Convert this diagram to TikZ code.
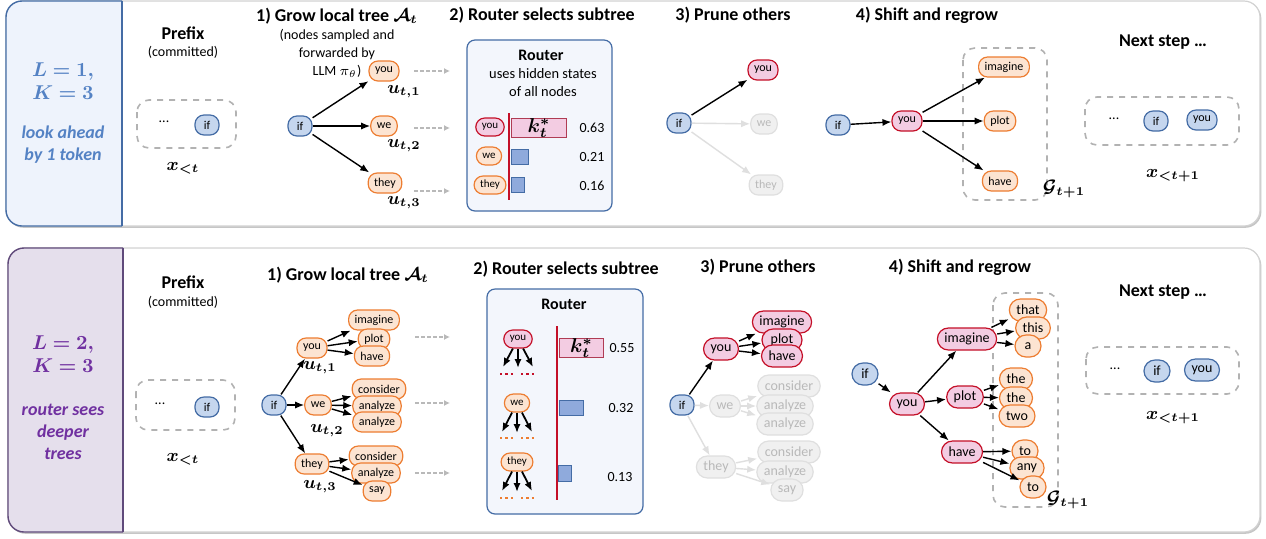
\documentclass[tikz,border=0pt]{standalone}
\usepackage{amsmath, bm, xcolor}
\usepackage{fontspec}
\setmainfont{Carlito}
\usetikzlibrary{arrows.meta, shadows}

\definecolor{nodeblue}{RGB}{197,214,238}
\definecolor{edgeblue}{RGB}{68,108,165}
\definecolor{nodeorange}{RGB}{252,228,210}
\definecolor{edgeorange}{RGB}{237,125,49}
\definecolor{nodepink}{RGB}{243,204,226}
\definecolor{edgered}{RGB}{196,16,40}
\definecolor{barpink}{RGB}{176,60,84}
\definecolor{barblue}{RGB}{143,170,220}
\definecolor{routerfill}{RGB}{243,246,252}
\definecolor{panelblue}{RGB}{238,243,252}
\definecolor{panelpurple}{RGB}{229,223,236}
\definecolor{textblue}{RGB}{84,130,196}
\definecolor{textpurple}{RGB}{112,48,160}
\definecolor{linepurple}{RGB}{96,74,123}

\begin{document}
\begin{tikzpicture}[x=0.5pt, y=-0.5pt,
  tok/.style={draw, rounded corners=4.5pt, line width=0.6pt, minimum height=10pt, minimum width=12pt, inner xsep=3pt, inner ysep=0pt, font=\fontsize{6}{7}\selectfont},
  bluetok/.style={tok, fill=nodeblue, draw=edgeblue},
  orangetok/.style={tok, fill=nodeorange, draw=edgeorange},
  pinktok/.style={tok, fill=nodepink, draw=edgered},
  graytok/.style={tok, fill=gray!12, draw=gray!25, text=gray!55},
  bigtok/.style={minimum height=11pt, minimum width=13pt, rounded corners=5.5pt, inner xsep=3.5pt, font=\fontsize{7}{8}\selectfont},
  minitok/.style={minimum height=9pt, rounded corners=4.5pt, font=\fontsize{5.5}{6}\selectfont},
  arr/.style={-{Latex[length=4.5pt,width=3.6pt]}, line width=0.7pt},
  fadearr/.style={arr, draw=gray!25},
  feed/.style={-{Latex[length=3pt,width=3pt]}, draw=gray!55, line width=0.7pt, dash pattern=on 2pt off 1pt},
  dashbox/.style={draw=gray!60, dashed, line width=0.8pt, rounded corners=6pt},
  steptitle/.style={font=\bfseries\fontsize{9}{11}\selectfont},
  note/.style={font=\fontsize{7}{9}\selectfont, align=center},
  mathlbl/.style={font=\fontsize{9}{10}\selectfont},
  sidemath/.style={font=\fontsize{10}{12}\selectfont},
  sidetext/.style={font=\bfseries\itshape\fontsize{9}{11}\selectfont, align=center},
  panel/.style={draw=gray!35, fill=white, line width=0.6pt, rounded corners=8pt, drop shadow={shadow xshift=0.7pt, shadow yshift=-0.9pt, opacity=0.45}},
  routerbox/.style={draw=edgeblue, fill=routerfill, line width=0.6pt, rounded corners=4pt},
  bar/.style={draw=edgeblue, fill=barblue, line width=0.5pt, inner sep=0pt, anchor=west},
  kbar/.style={draw=barpink, fill=nodepink, line width=0.5pt, inner sep=0pt, anchor=west},
  redline/.style={draw=edgered, line width=1.1pt},
  dotline/.style={line width=1.4pt, dash pattern=on 1.2pt off 1.5pt}]
\useasboundingbox (0,0) rectangle (1266,538);

% ---------- top panel: L=1, K=3 ----------
\draw[panel] (6,1) rectangle (1260,226);
\filldraw[fill=panelblue, draw=edgeblue, line width=0.7pt, rounded corners=8pt] (122,1) -- (6,1) -- (6,226) -- (122,226);
\draw[edgeblue, line width=0.7pt] (122,1) -- (122,226);
\node[sidemath, text=textblue] (sideA1) at (63,72) {$\boldsymbol{L=1,}$};
\node[sidemath, text=textblue] (sideA2) at (63,93) {$\boldsymbol{K=3}$};
\node[sidetext, text=textblue] (sideA3) at (63,145) {look ahead\\by 1 token};

% prefix
\node[steptitle] (preA) at (183,33) {Prefix};
\node[note] (comA) at (183,52) {(committed)};
\draw[dashbox] (137,100) rectangle (236,148);
\node[font=\fontsize{7}{8}\selectfont] (dotsA) at (164,122) {...};
\node[bluetok] (pifA) at (207,125) {if};
\node[mathlbl] (xA) at (183,168) {$\boldsymbol{x_{<t}}$};

% 1) grow
\node[steptitle] (tA1) at (337,16) {1) Grow local tree $\boldsymbol{\mathcal{A}_t}$};
\node[note] (nA1) at (337,53) {(nodes sampled and\\forwarded by\\LLM $\pi_\theta$)};
\node[bluetok] (ifA1) at (300,126) {if};
\node[orangetok] (youA1) at (384,71) {you};
\node[orangetok] (weA1) at (384,126) {we};
\node[orangetok] (theyA1) at (385,183) {they};
\draw[arr] (ifA1) -- (youA1);
\draw[arr] (ifA1) -- (weA1);
\draw[arr] (ifA1) -- (theyA1);
\node[mathlbl] (uA1) at (404,92) {$\boldsymbol{u_{t,1}}$};
\node[mathlbl] (uA2) at (404,146) {$\boldsymbol{u_{t,2}}$};
\node[mathlbl] (uA3) at (404,203) {$\boldsymbol{u_{t,3}}$};
\coordinate (fA1) at (450,71);
\coordinate (fA2) at (450,128);
\coordinate (fA3) at (450,191);
\draw[feed] (414,71) -- (fA1);
\draw[feed] (414,128) -- (fA2);
\draw[feed] (414,191) -- (fA3);

% 2) router
\node[steptitle] (tA2) at (542,15) {2) Router selects subtree};
\node[routerbox, minimum width=72.5pt, minimum height=85.5pt] (routerA) at (539.5,125.5) {};
\node[font=\bfseries\fontsize{8}{9}\selectfont] (rtA) at (541,55) {Router};
\node[note, font=\fontsize{7.2}{9}\selectfont] (rnA) at (543,83) {uses hidden states\\of all nodes};
\draw[redline] (509,113) -- (509,200);
\node[pinktok, minitok] (ryouA) at (490,127) {you};
\node[orangetok, minitok] (rweA) at (489,156) {we};
\node[orangetok, minitok] (rtheyA) at (490,185) {they};
\node[kbar, minimum width=27.5pt, minimum height=8pt] (kA) at (511,128) {$\boldsymbol{k^*_t}$};
\node[bar, minimum width=8.5pt, minimum height=7.5pt] (bA2) at (511,156.5) {};
\node[bar, minimum width=6.5pt, minimum height=7.5pt] (bA3) at (511,184.5) {};
\node[font=\fontsize{7}{8}\selectfont] (vA1) at (592,128) {0.63};
\node[font=\fontsize{7}{8}\selectfont] (vA2) at (592,157) {0.21};
\node[font=\fontsize{7}{8}\selectfont] (vA3) at (592,186) {0.16};

% 3) prune
\node[steptitle] (tA3) at (733,15) {3) Prune others};
\node[bluetok] (ifA3) at (679,123) {if};
\node[pinktok] (youA3) at (763,70) {you};
\node[graytok] (weA3) at (764,124) {we};
\node[graytok] (theyA3) at (766,185) {they};
\draw[arr] (ifA3) -- (youA3);
\draw[fadearr] (ifA3) -- (weA3);
\draw[fadearr] (ifA3) -- (theyA3);

% 4) shift and regrow
\node[steptitle] (tA4) at (927,15) {4) Shift and regrow};
\draw[dashbox] (963,48) rectangle (1047,200);
\node[bluetok] (ifA4) at (838,125) {if};
\node[pinktok] (youA4) at (907,121) {you};
\node[orangetok] (imA4) at (1004,67) {imagine};
\node[orangetok] (plA4) at (1000,121) {plot};
\node[orangetok] (haA4) at (1000,181) {have};
\draw[arr] (ifA4) -- (youA4);
\draw[arr] (youA4) -- (imA4);
\draw[arr] (youA4) -- (plA4);
\draw[arr] (youA4) -- (haA4);
\node[mathlbl] (gA) at (1064,189) {$\boldsymbol{\mathcal{G}_{t+1}}$};

% next step
\node[steptitle] (tA5) at (1163,42) {Next step \dots};
\draw[dashbox] (1085,97) rectangle (1239,145);
\node[font=\fontsize{7}{8}\selectfont] (dotsA5) at (1114,119) {...};
\node[bluetok] (ifA5) at (1156,121) {if};
\node[bluetok] (youA5) at (1202,120) {you};
\node[mathlbl] (xA5) at (1173,176) {$\boldsymbol{x_{<t+1}}$};

% ---------- bottom panel: L=2, K=3 ----------
\draw[panel] (8,248) rectangle (1260,532);
\filldraw[fill=panelpurple, draw=linepurple, line width=0.7pt, rounded corners=8pt] (123,248) -- (8,248) -- (8,532) -- (123,532);
\draw[linepurple, line width=0.7pt] (123,248) -- (123,532);
\node[sidemath, text=textpurple] (sideB1) at (63,345) {$\boldsymbol{L=2,}$};
\node[sidemath, text=textpurple] (sideB2) at (63,366) {$\boldsymbol{K=3}$};
\node[sidetext, text=textpurple] (sideB3) at (63,432) {router sees\\deeper\\trees};

% prefix
\node[steptitle] (preB) at (183,282) {Prefix};
\node[note] (comB) at (183,302) {(committed)};
\draw[dashbox] (136,380) rectangle (235,430);
\node[font=\fontsize{7}{8}\selectfont] (dotsB) at (160,404) {...};
\node[bluetok] (pifB) at (207,407) {if};
\node[mathlbl] (xB) at (183,459) {$\boldsymbol{x_{<t}}$};

% 1) grow
\node[steptitle] (tB1) at (348,275) {1) Grow local tree $\boldsymbol{\mathcal{A}_t}$};
\node[bluetok] (ifB1) at (274,405) {if};
\node[orangetok] (youB1) at (312,348) {you};
\node[orangetok] (weB1) at (318,405) {we};
\node[orangetok] (theyB1) at (312,464) {they};
\node[orangetok] (imB1) at (374,320) {imagine};
\node[orangetok] (plB1) at (374,339) {plot};
\node[orangetok] (haB1) at (372,356) {have};
\node[orangetok] (coB1) at (379,389) {consider};
\node[orangetok] (anB1) at (377,406) {analyze};
\node[orangetok] (an2B1) at (377,422) {analyze};
\node[orangetok] (co2B1) at (376,456) {consider};
\node[orangetok] (an3B1) at (376,473) {analyze};
\node[orangetok] (saB1) at (377,491) {say};
\draw[arr] (ifB1) -- (youB1);
\draw[arr] (ifB1) -- (weB1);
\draw[arr] (ifB1) -- (theyB1);
\draw[arr] (youB1) -- (imB1);
\draw[arr] (youB1) -- (plB1);
\draw[arr] (youB1) -- (haB1);
\draw[arr] (weB1) -- (coB1);
\draw[arr] (weB1) -- (anB1);
\draw[arr] (weB1) -- (an2B1);
\draw[arr] (theyB1) -- (co2B1);
\draw[arr] (theyB1) -- (an3B1);
\draw[arr] (theyB1) -- (saB1);
\node[mathlbl] (uB1) at (320,368) {$\boldsymbol{u_{t,1}}$};
\node[mathlbl] (uB2) at (327,431) {$\boldsymbol{u_{t,2}}$};
\node[mathlbl] (uB3) at (320,487) {$\boldsymbol{u_{t,3}}$};
\coordinate (fB1) at (450,337);
\coordinate (fB2) at (450,403);
\coordinate (fB3) at (450,473);
\draw[feed] (415,337) -- (fB1);
\draw[feed] (415,403) -- (fB2);
\draw[feed] (415,473) -- (fB3);

% 2) router
\node[steptitle] (tB2) at (566,269) {2) Router selects subtree};
\node[routerbox, minimum width=78pt, minimum height=112.5pt] (routerB) at (565,401.5) {};
\node[font=\bfseries\fontsize{8}{9}\selectfont] (rtB) at (564,304) {Router};
\draw[redline] (557,326) -- (557,500);
\node[pinktok, minitok] (ryouB) at (518,339) {you};
\node[orangetok, minitok] (rweB) at (517,403) {we};
\node[orangetok, minitok] (rtheyB) at (517,462) {they};
\coordinate (cB1) at (503,367);
\coordinate (cB2) at (518,368);
\coordinate (cB3) at (533,367);
\coordinate (cB4) at (502,432);
\coordinate (cB5) at (517,433);
\coordinate (cB6) at (532,432);
\coordinate (cB7) at (502,491);
\coordinate (cB8) at (517,492);
\coordinate (cB9) at (532,491);
\foreach \a/\b in {ryouB/cB1, ryouB/cB2, ryouB/cB3, rweB/cB4, rweB/cB5, rweB/cB6, rtheyB/cB7, rtheyB/cB8, rtheyB/cB9}
  \draw[arr, line width=0.9pt] (\a) -- (\b);
\draw[dotline, edgered] (500,374) -- (514,374);
\draw[dotline, edgered] (521,374) -- (535,374);
\draw[dotline, edgeorange] (500,438) -- (514,438);
\draw[dotline, edgeorange] (521,438) -- (535,438);
\draw[dotline, edgeorange] (500,498) -- (514,498);
\draw[dotline, edgeorange] (521,498) -- (535,498);
\node[kbar, minimum width=22pt, minimum height=8pt] (kB) at (559,348) {$\boldsymbol{k^*_t}$};
\node[bar, minimum width=12pt, minimum height=7.5pt] (bB2) at (559,407.5) {};
\node[bar, minimum width=6.5pt, minimum height=8pt] (bB3) at (558,473) {};
\node[font=\fontsize{7}{8}\selectfont] (vB1) at (622,348) {0.55};
\node[font=\fontsize{7}{8}\selectfont] (vB2) at (621,408) {0.32};
\node[font=\fontsize{7}{8}\selectfont] (vB3) at (620,477) {0.13};

% 3) prune
\node[steptitle] (tB3) at (758,267) {3) Prune others};
\node[bluetok] (ifB3) at (682,405) {if};
\node[pinktok, bigtok] (youB3) at (721,349) {you};
\node[pinktok, bigtok] (imB3) at (782,322) {imagine};
\node[pinktok, bigtok, minimum width=20pt] (plB3) at (782,340) {plot};
\node[pinktok, bigtok] (haB3) at (782,356) {have};
\node[graytok, bigtok] (weB3) at (725,406) {we};
\node[graytok, bigtok] (coB3) at (789,386) {consider};
\node[graytok, bigtok] (anB3) at (785,406) {analyze};
\node[graytok, bigtok] (an2B3) at (785,424) {analyze};
\node[graytok, bigtok] (theyB3) at (716,467) {they};
\node[graytok, bigtok] (co2B3) at (789,452) {consider};
\node[graytok, bigtok] (an3B3) at (785,472) {analyze};
\node[graytok, bigtok] (saB3) at (787,490) {say};
\draw[arr] (ifB3) -- (youB3);
\draw[arr] (youB3) -- (imB3);
\draw[arr] (youB3) -- (plB3);
\draw[arr] (youB3) -- (haB3);
\draw[fadearr] (ifB3) -- (weB3);
\draw[fadearr] (ifB3) -- (theyB3);
\draw[fadearr] (weB3) -- (coB3);
\draw[fadearr] (weB3) -- (anB3);
\draw[fadearr] (weB3) -- (an2B3);
\draw[fadearr] (theyB3) -- (co2B3);
\draw[fadearr] (theyB3) -- (an3B3);
\draw[fadearr] (theyB3) -- (saB3);

% 4) shift and regrow
\node[steptitle] (tB4) at (960,267) {4) Shift and regrow};
\draw[dashbox] (993,293) rectangle (1058,507);
\node[bluetok, bigtok] (ifB4) at (865,374) {if};
\node[pinktok, bigtok] (youB4) at (907,404) {you};
\node[pinktok, bigtok] (imB4) at (967,339) {imagine};
\node[pinktok, bigtok] (plB4) at (965,397) {plot};
\node[pinktok, bigtok] (haB4) at (962,452) {have};
\node[orangetok, bigtok] (thB4) at (1028,310) {that};
\node[orangetok, bigtok] (tsB4) at (1033,328) {this};
\node[orangetok, bigtok] (aB4) at (1028,346) {a};
\node[orangetok, bigtok] (the1B4) at (1016,379) {the};
\node[orangetok, bigtok] (the2B4) at (1016,398) {the};
\node[orangetok, bigtok] (twB4) at (1017,416) {two};
\node[orangetok, bigtok] (toB4) at (1025,451) {to};
\node[orangetok, bigtok] (anyB4) at (1027,468) {any};
\node[orangetok, bigtok] (to2B4) at (1033,487) {to};
\draw[arr] (ifB4) -- (youB4);
\draw[arr] (youB4) -- (imB4);
\draw[arr] (youB4) -- (plB4);
\draw[arr] (youB4) -- (haB4);
\draw[arr] (imB4) -- (thB4);
\draw[arr] (imB4) -- (tsB4);
\draw[arr] (imB4) -- (aB4);
\draw[arr] (plB4) -- (the1B4);
\draw[arr] (plB4) -- (the2B4);
\draw[arr] (plB4) -- (twB4);
\draw[arr] (haB4) -- (toB4);
\draw[arr] (haB4) -- (anyB4);
\draw[arr] (haB4) -- (to2B4);
\node[mathlbl] (gB) at (1068,500) {$\boldsymbol{\mathcal{G}_{t+1}}$};

% next step
\node[steptitle] (tB5) at (1163,292) {Next step \dots};
\draw[dashbox] (1086,347) rectangle (1239,394);
\node[font=\fontsize{7}{8}\selectfont] (dotsB5) at (1115,369) {...};
\node[bluetok, bigtok] (ifB5) at (1157,371) {if};
\node[bluetok, bigtok] (youB5) at (1202,370) {you};
\node[mathlbl] (xB5) at (1173,418) {$\boldsymbol{x_{<t+1}}$};
\end{tikzpicture}
\end{document}
